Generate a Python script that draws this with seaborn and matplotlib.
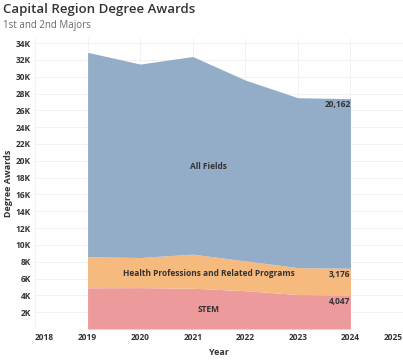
import matplotlib
matplotlib.use('Agg')
import matplotlib.pyplot as plt
import seaborn as sns

# values
years = [2019, 2020, 2021, 2022, 2023, 2024]
stem = [4900, 4920, 4850, 4550, 4100, 4047]
health = [3700, 3580, 4050, 3550, 3200, 3176]
all_fields = [24300, 23000, 23500, 21500, 20200, 20162]
series_names = ["STEM", "Health Professions and Related Programs", "All Fields"]
colors = ["#EC9A9B", "#F6BA7E", "#93ADC9"]
y_ticks = list(range(2000, 34001, 2000))
x_ticks = list(range(2018, 2026))

sns.set_theme(style="whitegrid")
plt.rcParams['font.family'] = ['Open Sans', 'DejaVu Sans']

fig = plt.figure(figsize=(4.03, 3.6), dpi=100)
ax = fig.add_axes([35 / 403, 31 / 360, 1 - 35 / 403, (329 - 38) / 360])

ax.stackplot(years, stem, health, all_fields, colors=colors, linewidth=0)

ax.set_xlim(2018, 2025)
ax.set_ylim(0, 34600)
ax.set_xticks(x_ticks)
ax.set_yticks(y_ticks)
ax.set_yticklabels([f"{v // 1000}K" for v in y_ticks])
ax.tick_params(axis='both', labelsize=6, colors="#333333", pad=3, length=0)
for lbl in ax.get_xticklabels() + ax.get_yticklabels():
    lbl.set_fontweight('bold')
xl = ax.get_xticklabels()
xl[0].set_horizontalalignment('left')
xl[-1].set_horizontalalignment('right')

ax.grid(color="#f0f0f0", linewidth=0.6)
for s in ax.spines.values():
    s.set_visible(False)
ax.set_axisbelow(True)

ax.set_xlabel("Year", fontsize=6.5, fontweight='bold', color="#333333", labelpad=4)
ax.set_ylabel("Degree Awards", fontsize=6.5, fontweight='bold', color="#333333", labelpad=2)

# series labels in the middle of each band
txt = dict(fontsize=6, fontweight='bold', color="#333333", ha='center', va='center')
ax.text(2021.3, 19300, series_names[2], **txt)
ax.text(2021.3, 6600, series_names[1], **txt)
ax.text(2021.3, 2300, series_names[0], **txt)

# end values
lbl = dict(fontsize=6, fontweight='bold', color="#333333", ha='right', va='center')
ax.text(2024, 26700, f"{all_fields[-1]:,}", **lbl)
ax.text(2024, 6500, f"{health[-1]:,}", **lbl)
ax.text(2024, 3300, f"{stem[-1]:,}", **lbl)

fig.text(3 / 403, 1 - 3 / 360, "Capital Region Degree Awards", fontsize=9.5,
         fontweight='semibold', color="#333333", ha='left', va='top')
fig.text(3 / 403, 1 - 20 / 360, "1st and 2nd Majors", fontsize=7,
         color="#666666", ha='left', va='top')

fig.savefig("out.png", dpi=100)
plt.close(fig)
